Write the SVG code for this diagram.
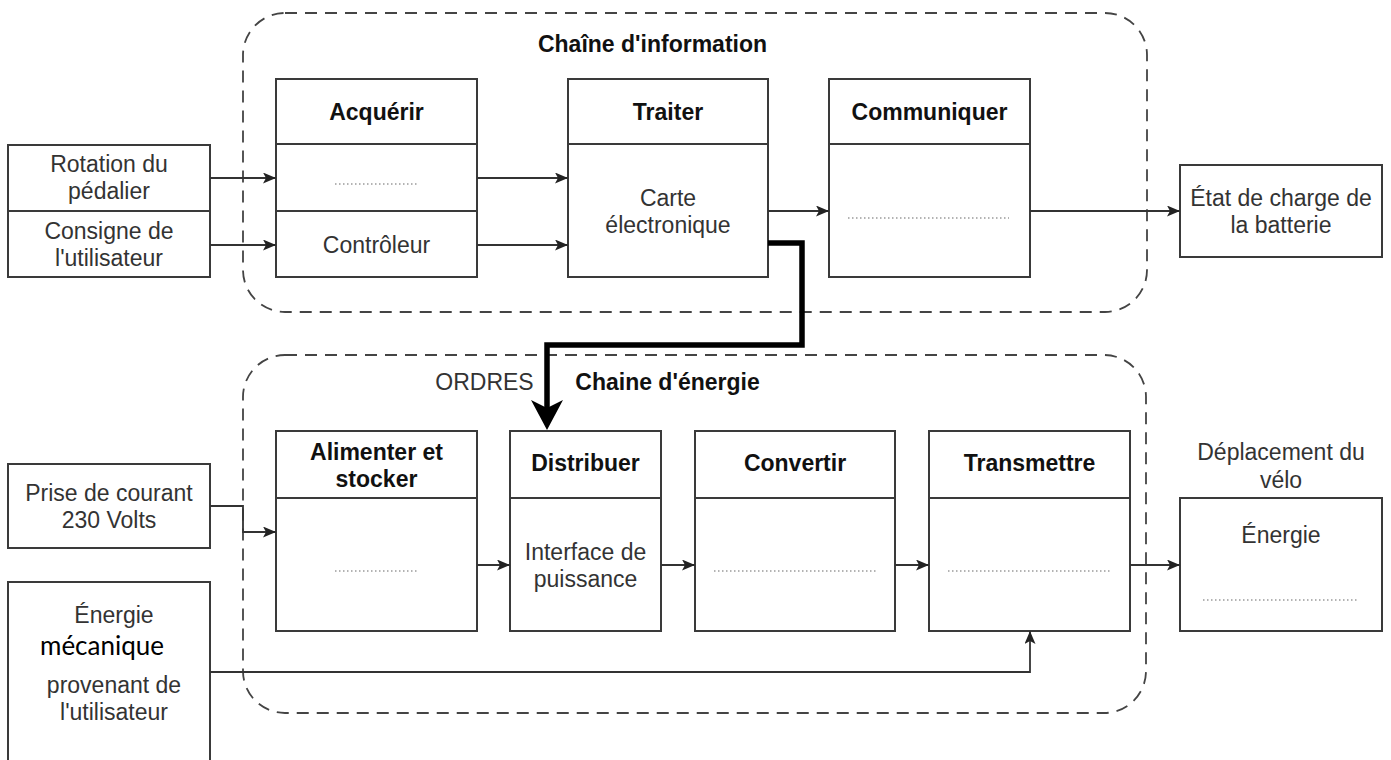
<svg xmlns="http://www.w3.org/2000/svg" width="1391" height="760" viewBox="0 0 1391 760">
<style>
.bg{fill:#fff}
.box{fill:#fff;stroke:#3a3a3a;stroke-width:2}
.div{stroke:#3a3a3a;stroke-width:2;fill:none}
.cont{fill:none;stroke:#444;stroke-width:1.8;stroke-dasharray:12 8}
.dot{stroke:#9a9a9a;stroke-width:1.5;stroke-dasharray:1.5 2.5;fill:none}
.t{font-family:"Liberation Sans",Arial,sans-serif;font-size:23px;fill:#333;text-anchor:middle}
.h{font-family:"Liberation Sans",Arial,sans-serif;font-size:23px;font-weight:bold;fill:#111;text-anchor:middle}
.conn{fill:none;stroke:#333;stroke-width:1.8}
.thick{fill:none;stroke:#000;stroke-width:5.5}
</style>
<defs>
<marker id="arr" viewBox="0 0 13 11" refX="13" refY="5.5" markerWidth="13" markerHeight="11" markerUnits="userSpaceOnUse" orient="auto"><path d="M0,0 L13,5.5 L0,11 L3,5.5 Z" fill="#222"/></marker>
<marker id="arrBig" viewBox="0 0 30 32" refX="20" refY="16" markerWidth="30" markerHeight="32" markerUnits="userSpaceOnUse" orient="auto"><path d="M0,0 L30,16 L0,32 L8,16 Z" fill="#000"/></marker>
</defs>
<rect class="bg" x="0" y="0" width="1391" height="760"/>

<g id="chaine-information">
<rect class="cont" x="243" y="13" width="904" height="299" rx="42" ry="42"/>
<text class="h" x="652.5" y="52">Chaîne d'information</text>
</g>
<g id="chaine-energie">
<rect class="cont" x="243" y="355" width="903" height="358" rx="42" ry="42"/>
<text class="h" x="667.5" y="390">Chaine d'énergie</text>
</g>

<g id="rotation">
<rect class="box" x="8" y="145" width="202" height="66"/>
<text class="t" x="109" y="172">Rotation du</text>
<text class="t" x="109" y="199">pédalier</text>
</g>
<g id="consigne">
<rect class="box" x="8" y="211" width="202" height="66"/>
<text class="t" x="109" y="239">Consigne de</text>
<text class="t" x="109" y="266">l'utilisateur</text>
</g>

<g id="acquerir">
<rect class="box" x="276" y="79" width="201" height="198"/>
<line class="div" x1="276" y1="144" x2="477" y2="144"/>
<line class="div" x1="276" y1="211" x2="477" y2="211"/>
<text class="h" x="376.5" y="119.5">Acquérir</text>
<line class="dot" x1="335" y1="184" x2="418" y2="184"/>
<text class="t" x="376.5" y="253">Contrôleur</text>
</g>

<g id="traiter">
<rect class="box" x="568" y="79" width="200" height="198"/>
<line class="div" x1="568" y1="144" x2="768" y2="144"/>
<text class="h" x="668" y="119.5">Traiter</text>
<text class="t" x="668" y="206">Carte</text>
<text class="t" x="668" y="233">électronique</text>
</g>

<g id="communiquer">
<rect class="box" x="829" y="79" width="201" height="198"/>
<line class="div" x1="829" y1="144" x2="1030" y2="144"/>
<text class="h" x="929.5" y="119.5">Communiquer</text>
<line class="dot" x1="848" y1="218" x2="1009" y2="218"/>
</g>

<g id="etat">
<rect class="box" x="1180" y="165" width="202" height="92"/>
<text class="t" x="1281" y="206">État de charge de</text>
<text class="t" x="1281" y="233">la batterie</text>
</g>

<g id="prise">
<rect class="box" x="8" y="464" width="202" height="84"/>
<text class="t" x="109" y="501">Prise de courant</text>
<text class="t" x="109" y="528">230 Volts</text>
</g>

<g id="energie-meca">
<rect class="box" x="8" y="582" width="202" height="230"/>
<text class="t" x="114" y="623">Énergie</text>
<text x="102" y="655" style="font-family:Lato,'Open Sans',sans-serif;font-size:26px;fill:#000;text-anchor:middle">mécanique</text>
<text class="t" x="114" y="693">provenant de</text>
<text class="t" x="114" y="720">l'utilisateur</text>
</g>

<g id="alimenter">
<rect class="box" x="276" y="431" width="201" height="200"/>
<line class="div" x1="276" y1="498" x2="477" y2="498"/>
<text class="h" x="376.5" y="460">Alimenter et</text>
<text class="h" x="376.5" y="487">stocker</text>
<line class="dot" x1="335" y1="571" x2="418" y2="571"/>
</g>

<g id="distribuer">
<rect class="box" x="510" y="431" width="151" height="200"/>
<line class="div" x1="510" y1="498" x2="661" y2="498"/>
<text class="h" x="585.5" y="471">Distribuer</text>
<text class="t" x="585.5" y="560">Interface de</text>
<text class="t" x="585.5" y="587">puissance</text>
</g>

<g id="convertir">
<rect class="box" x="695" y="431" width="200" height="200"/>
<line class="div" x1="695" y1="498" x2="895" y2="498"/>
<text class="h" x="795" y="471">Convertir</text>
<line class="dot" x1="714" y1="571" x2="876" y2="571"/>
</g>

<g id="transmettre">
<rect class="box" x="929" y="431" width="201" height="200"/>
<line class="div" x1="929" y1="498" x2="1130" y2="498"/>
<text class="h" x="1029.5" y="471">Transmettre</text>
<line class="dot" x1="948" y1="571" x2="1110" y2="571"/>
</g>

<g id="deplacement">
<text class="t" x="1281" y="460">Déplacement du</text>
<text class="t" x="1281" y="488">vélo</text>
<rect class="box" x="1180" y="498" width="202" height="133"/>
<text class="t" x="1281" y="543">Énergie</text>
<line class="dot" x1="1203" y1="600" x2="1358" y2="600"/>
</g>

<g id="ordres-label">
<text class="t" x="484.5" y="390">ORDRES</text>
</g>

<g id="connectors">
<path class="conn" d="M210,178 L276,178" marker-end="url(#arr)"/>
<path class="conn" d="M210,245 L276,245" marker-end="url(#arr)"/>
<path class="conn" d="M477,178 L568,178" marker-end="url(#arr)"/>
<path class="conn" d="M477,245 L568,245" marker-end="url(#arr)"/>
<path class="conn" d="M768,211 L829,211" marker-end="url(#arr)"/>
<path class="conn" d="M1030,211 L1180,211" marker-end="url(#arr)"/>
<path class="thick" d="M768,243 L802,243 L802,345 L547,345 L547,420" marker-end="url(#arrBig)"/>
<path class="conn" d="M210,506 L243,506 L243,532 L276,532" marker-end="url(#arr)"/>
<path class="conn" d="M477,565 L510,565" marker-end="url(#arr)"/>
<path class="conn" d="M661,565 L695,565" marker-end="url(#arr)"/>
<path class="conn" d="M895,565 L929,565" marker-end="url(#arr)"/>
<path class="conn" d="M1130,565 L1180,565" marker-end="url(#arr)"/>
<path class="conn" d="M210,672 L1030,672 L1030,631" marker-end="url(#arr)"/>
</g>
</svg>
